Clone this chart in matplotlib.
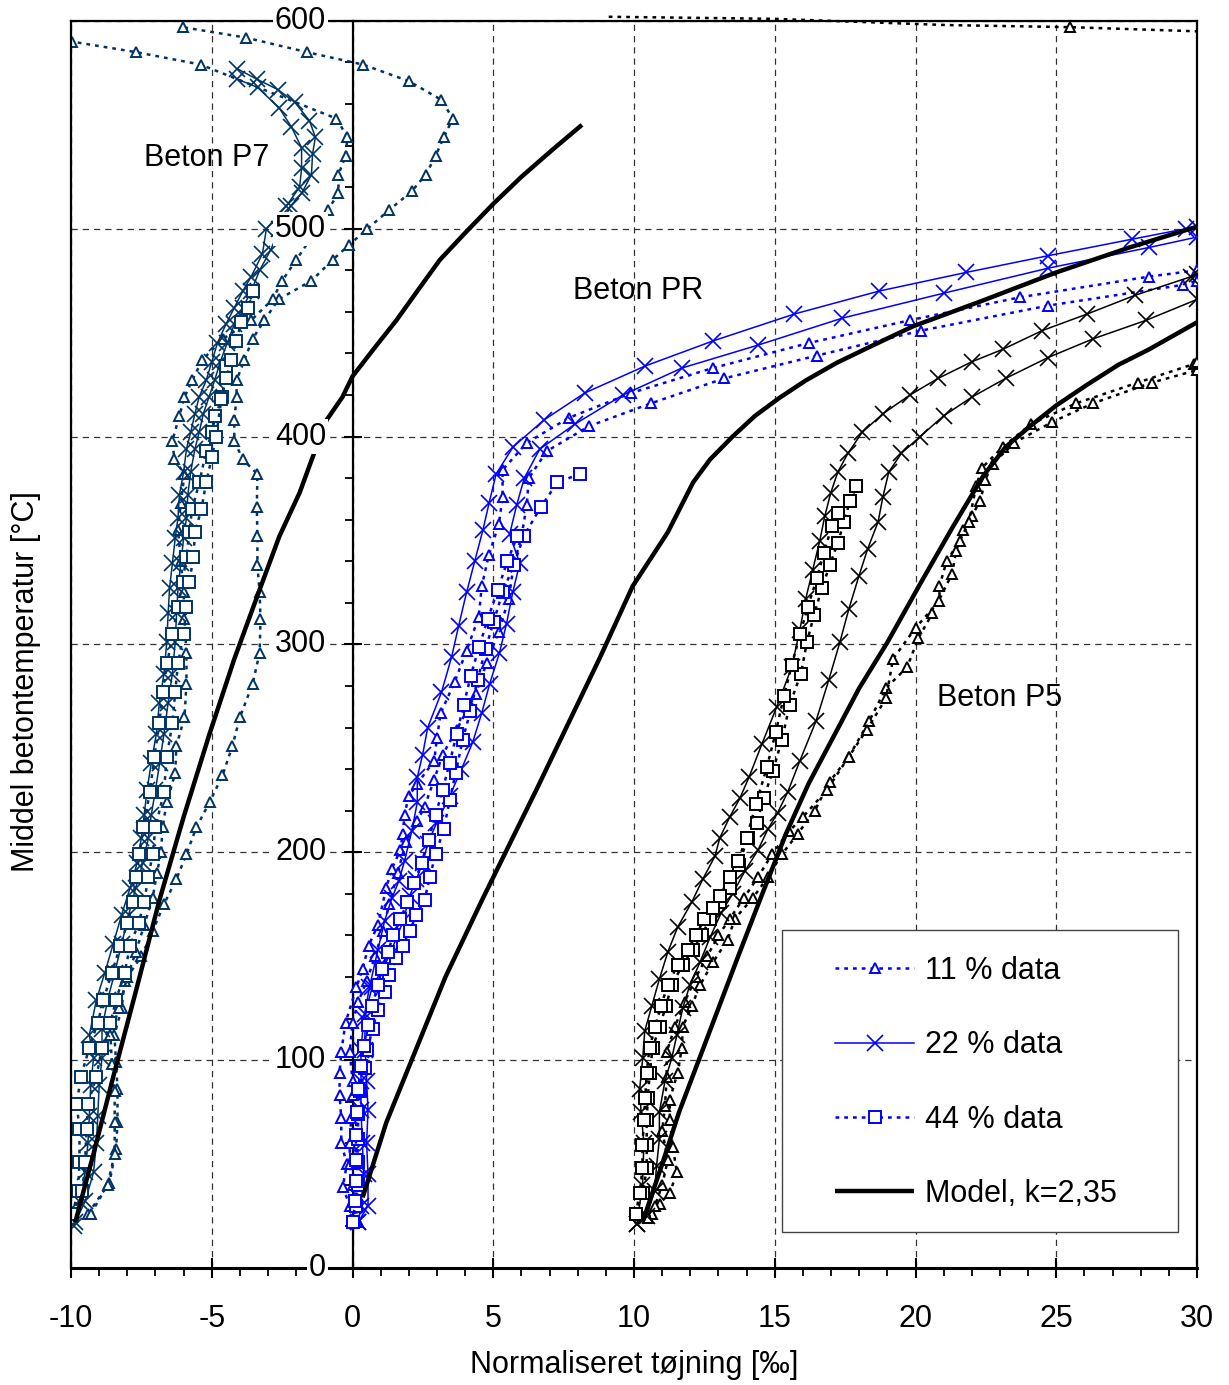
import matplotlib
matplotlib.use('Agg')
import matplotlib.pyplot as plt
from matplotlib.ticker import MultipleLocator
from matplotlib.patches import Rectangle

plt.rcParams['font.family'] = ['Liberation Sans', 'DejaVu Sans']
plt.rcParams['axes.unicode_minus'] = False

# ---------------- data ----------------
# Beton P7
p7_11a_x = [-9.4,-8.64,-8.4,-8.35,-8.35,-8.4,-8.46,-8.2,-8.1,-7.5,-7.1,-6.7,-6.26,-5.9,-5.55,-5.08,-4.62,-4.27,-4.0,-3.55,-3.3,-3.27,-3.3,-3.38,-3.38,-3.4,-3.38,-3.9,-4.2,-4.2,-4.12,-4.12,-3.84,-3.55,-3.13,-2.63,-1.46,-0.71,-0.14,0.53,1.3,2.1,2.6,2.95,3.24,3.56,3.16,2.0,0.37,-1.63,-3.8,-6.04]
p7_11a_y = [26,41,57,70,86,99,112,125,138,150,162,175,187,199,212,224,237,251,265,281,296,312,325,338,352,366,382,389,398,408,419,427,437,447,456,466,475,485,492,500,509,518,526,535,544,553,562,571,579,585,592,597]
p7_11b_x = [-9.3,-8.7,-8.45,-8.45,-8.45,-8.55,-8.6,-8.3,-8.0,-7.7,-7.4,-7.1,-6.95,-6.8,-6.75,-6.6,-6.3,-6.26,-5.97,-5.9,-5.9,-5.97,-6.0,-6.1,-6.2,-6.1,-5.97,-6.33,-6.4,-6.15,-5.97,-5.7,-5.33,-4.6,-3.6,-2.84,-2.5,-2.0,-1.4,-0.88,-0.5,-0.5,-0.25,-0.18,-0.57,-5.4,-7.7,-9.95]
p7_11b_y = [26,40,55,70,85,98,112,125,140,152,165,178,190,200,212,224,238,251,265,281,296,312,325,340,355,368,382,389,398,410,419,427,437,447,456,466,475,485,497,509,517,526,535,544,553,579,585,590]
p7_22a_x = [-9.9,-9.7,-9.5,-9.4,-9.35,-9.3,-9.2,-9.35,-9.1,-8.8,-8.5,-8.2,-7.9,-7.65,-7.5,-7.4,-7.3,-7.15,-6.97,-6.86,-6.7,-6.6,-6.55,-6.5,-6.4,-6.3,-6.2,-6.15,-6.0,-5.9,-5.75,-5.6,-5.45,-5.2,-5.0,-4.8,-4.5,-4.2,-3.9,-3.6,-3.2,-3.06,-2.35,-1.88,-1.81,-1.81,-2.17,-2.6,-3.37,-4.1]
p7_22a_y = [20,32,46,60,73,88,101,112,129,142,156,170,183,195,207,218,230,243,257,272,286,301,315,327,339,351,361,372,383,394,402,411,419,427,436,445,454,462,470,477,488,500,511,520,529,539,549,558,568,572]
p7_22b_x = [-9.85,-9.5,-9.2,-9.1,-9.05,-9.0,-8.9,-8.9,-8.7,-8.45,-8.2,-7.95,-7.7,-7.45,-7.25,-7.15,-7.0,-6.85,-6.7,-6.55,-6.4,-6.3,-6.25,-6.2,-6.1,-6.0,-5.9,-5.85,-5.75,-5.6,-5.45,-5.3,-5.1,-4.9,-4.7,-4.45,-4.2,-3.9,-3.6,-3.3,-2.9,-2.6,-2.2,-1.81,-1.46,-1.42,-1.32,-1.53,-2.06,-2.66,-3.4,-4.1]
p7_22b_y = [22,32,46,60,73,88,101,115,129,142,156,170,183,195,207,218,230,243,257,272,286,301,315,327,339,351,361,372,383,394,402,411,419,427,436,445,454,462,470,480,490,500,511,517,526,536,544,552,561,567,572,577]
p7_44a_x = [-9.95,-9.75,-9.7,-9.7,-9.8,-9.65,-9.35,-9.05,-8.85,-8.55,-8.25,-8.0,-7.8,-7.7,-7.57,-7.43,-7.2,-7.04,-6.86,-6.75,-6.58,-6.4,-6.2,-6.04,-5.9,-5.8,-5.7,-5.44,-5.2,-5.0,-4.87,-4.62,-4.48]
p7_44a_y = [26,37,51,67,79,92,106,118,129,142,155,166,176,188,199,212,229,246,262,277,291,305,318,330,342,354,365,378,393,402,410,419,434]
p7_44b_x = [-9.95,-9.6,-9.5,-9.45,-9.4,-9.1,-8.9,-8.6,-8.4,-8.1,-7.9,-7.6,-7.4,-7.26,-7.1,-7.0,-6.7,-6.6,-6.4,-6.3,-6.2,-6.0,-5.9,-5.8,-5.65,-5.6,-5.37,-5.2,-5.0,-4.85,-4.66,-4.5,-4.3,-4.13,-3.95,-3.73,-3.52]
p7_44b_y = [26,37,51,67,79,92,106,118,129,142,155,166,176,188,199,212,229,246,262,277,291,305,318,330,342,354,365,378,390,400,418,428,437,446,455,462,470]

# Beton PR
pr_11a_x = [0.2,-0.1,-0.35,-0.2,-0.4,-0.4,-0.46,-0.46,-0.4,-0.25,0.14,0.36,0.57,0.9,1.2,1.39,1.7,1.78,1.85,1.99,2.3,2.9,3.0,3.13,3.63,4.05,4.48,4.59,4.84,5.2,5.33,5.33,6.19,7.68,9.9,12.8,16.2,19.8,23.7,28.3,30.0]
pr_11a_y = [22,30,39,50,60,72,83,94,104,118,135,144,155,165,183,192,201,209,218,227,233,244,255,267,282,297,313,328,343,358,371,384,397,409,421,433,445,456,467,477,480]
pr_11b_x = [0.2,0.1,0.0,-0.1,-0.1,-0.05,0.0,0.0,-0.1,0.0,0.2,0.5,0.8,1.07,1.3,1.6,1.9,2.3,2.56,2.9,3.2,3.7,4.37,4.76,5.19,5.55,5.72,6.0,6.19,6.26,6.9,8.4,10.6,13.2,16.5,20.2,24.7,29.5,30.0]
pr_11b_y = [22,30,40,50,60,72,83,90,104,118,128,138,150,162,175,190,205,215,222,235,247,259,276,291,306,322,338,352,367,380,393,405,416,428,439,451,463,473,475]
pr_22a_x = [0.2,0.3,0.4,0.35,0.3,0.3,0.3,0.4,0.6,0.9,1.14,1.4,1.64,1.85,2.1,2.3,2.3,2.49,2.67,3.16,3.52,3.77,4.05,4.34,4.63,4.85,5.1,5.7,6.8,8.25,10.4,12.8,15.7,18.7,21.8,24.7,27.7,29.6,30.0]
pr_22a_y = [22,30,45,60,76,90,105,120,135,153,167,178,186,196,210,224,236,247,260,277,294,309,325,340,355,368,382,395,408,421,434,446,459,470,479,487,495,500,501]
pr_22b_x = [0.2,0.55,0.55,0.5,0.55,0.5,0.45,0.43,0.7,1.3,1.8,2.03,2.27,2.49,2.67,2.98,3.45,3.87,4.27,4.59,4.87,5.22,5.47,5.69,5.94,5.58,5.83,6.1,6.65,7.9,9.6,11.7,14.4,17.4,21.0,24.7,28.3,30.0]
pr_22b_y = [22,30,45,60,76,90,105,122,135,150,167,179,187,195,204,214,227,240,253,267,281,296,310,325,339,353,367,380,394,406,420,433,444,457,469,481,491,496]
pr_44a_x = [0.0,0.14,0.18,0.18,0.18,0.21,0.28,0.43,0.53,0.71,0.89,1.14,1.31,1.56,1.78,2.03,2.27,2.56,2.74,2.95,3.24,3.45,3.66,3.91,4.19,4.44,4.73,5.01,5.33,5.72,6.08,6.68,7.28,8.07]
pr_44a_y = [22,30,40,51,62,74,85,96,105,115,124,133,141,149,155,162,170,177,188,199,211,225,238,254,268,283,298,311,325,338,352,366,378,382]
pr_44b_x = [0.0,0.1,0.12,0.12,0.12,0.15,0.2,0.3,0.4,0.55,0.7,0.9,1.05,1.25,1.45,1.7,1.95,2.2,2.45,2.7,2.95,3.2,3.45,3.7,3.95,4.2,4.5,4.8,5.15,5.5,5.85]
pr_44b_y = [22,32,42,52,64,75,86,97,107,117,126,136,144,152,160,168,176,185,195,206,218,230,243,257,271,285,299,312,326,340,352]

# Beton P5
p5_11a_x = [10.63,10.91,11.27,11.52,11.38,11.27,11.27,11.55,11.7,11.73,12.05,12.34,12.8,13.33,13.58,14.22,14.75,15.25,15.82,16.42,16.95,17.63,18.35,18.95,19.7,20.1,20.6,21.3,21.44,21.7,22.0,22.3,22.47,22.75,23.5,24.85,26.3,28.4,30.0]
p5_11a_y = [26,31,36,46,58,71,81,94,106,116,126,136,147,158,168,178,188,199,209,220,234,246,263,279,289,303,315,334,345,355,362,369,379,387,397,407,416,426,432]
p5_11b_x = [10.5,10.75,11.0,11.2,11.0,11.1,11.16,11.16,11.45,11.8,12.2,12.6,13.0,13.4,13.9,14.4,14.9,15.5,16.0,16.85,17.63,18.27,18.95,19.2,20.0,20.85,20.85,21.1,21.58,21.9,22.15,22.36,23.1,24.1,25.7,27.9,29.9,30.0]
p5_11b_y = [24,30,40,52,66,78,92,104,116,128,140,150,160,168,178,188,199,210,217,230,246,259,274,293,308,321,328,340,350,359,376,385,395,406,416,426,435,436]
p5_11top_x = [9.1,15.0,21.1,25.5,30.0]
p5_11top_y = [602,601,598,597,595]
p5_22a_x = [10.1,10.3,10.35,10.25,10.2,10.31,10.38,10.63,10.9,11.2,11.55,12.05,12.44,12.87,13.05,13.4,13.76,14.08,14.54,15.07,15.6,15.89,16.1,16.35,16.6,16.78,16.99,17.24,17.6,18.1,18.84,19.8,20.8,22.0,23.1,24.5,26.1,27.8,29.8,30.0]
p5_22a_y = [21,40,60,75,86,101,114,126,139,152,164,176,187,198,207,217,226,236,252,270,289,307,322,336,350,362,373,383,392,402,411,420,428,436,442,451,459,468,477,478]
p5_22b_x = [10.1,10.45,10.73,10.8,10.9,10.9,11.1,11.34,11.52,11.73,11.98,12.34,12.7,13.1,13.5,13.94,14.4,14.75,15.1,15.46,15.89,16.46,16.92,17.31,17.63,17.99,18.3,18.67,18.84,19.05,19.5,20.16,21.0,22.0,23.2,24.7,26.3,28.2,30.0]
p5_22b_y = [21,25,37,49,62,75,90,101,112,125,136,147,159,171,180,191,201,211,219,229,244,263,283,301,317,333,346,359,371,383,392,400,410,419,428,438,447,456,466]
p5_44a_x = [10.06,10.31,10.45,10.45,10.45,10.49,10.56,10.66,10.91,11.13,11.34,11.73,12.1,12.4,12.7,13.05,13.4,13.72,14.04,14.36,14.6,14.93,15.25,15.53,15.93,16.14,16.39,16.67,16.95,17.24,17.46,17.67,17.9]
p5_44a_y = [26,36,48,59,71,82,94,106,116,126,136,146,153,160,168,176,183,194,207,214,226,239,254,271,286,301,314,327,338,349,359,369,376]
p5_44b_x = [10.06,10.2,10.3,10.3,10.35,10.4,10.45,10.55,10.75,10.95,11.2,11.55,11.9,12.2,12.5,12.8,13.05,13.4,13.69,14.0,14.33,14.72,15.04,15.32,15.6,15.9,16.17,16.5,16.74,17.03,17.24]
p5_44b_y = [26,36,48,59,71,82,94,106,116,126,136,146,153,160,168,173,179,188,196,207,223,241,258,275,290,305,318,332,344,357,363]

# Model, k=2,35
model_p7_x = [-9.85,-9.2,-8.5,-7.7,-6.86,-6.0,-5.08,-4.2,-3.31,-2.6,-1.88,-1.42,-0.92,-0.36,0.0,0.8,1.56,2.3,3.1,4.0,5.0,6.0,7.1,8.15]
model_p7_y = [22,55,92,133,177,217,257,293,326,352,373,390,408,419,429,443,456,470,485,498,512,525,538,550]
model_pr_x = [0.36,1.2,2.1,3.3,4.6,5.4,6.6,7.7,8.8,9.95,11.2,12.1,12.7,13.5,14.3,15.15,16.1,17.2,18.5,19.9,22.3,25.0,27.6,30.0]
model_pr_y = [34,70,100,140,177,199,232,263,294,328,354,378,389,400,410,418.5,427,435.5,444,453,465,479,491,501]
model_p5_x = [10.3,11.0,11.6,12.3,13.0,13.7,14.47,15.4,16.2,17.1,18.0,19.0,20.2,21.3,22.4,23.2,24.07,25.0,26.1,27.2,28.3,30.0]
model_p5_y = [22,50,75,100,125,150,177,209,233,256,279,301,330,356,381,395,405,415,425,434.5,442,455]

y_ticks = [0, 100, 200, 300, 400, 500, 600]
legend_labels = ['11 % data', '22 % data', '44 % data', 'Model, k=2,35']
panel_labels = ['Beton P7', 'Beton PR', 'Beton P5']

# ---------------- plot ----------------
NAVY = '#003366'
BLUE = '#0000FF'
BLACK = '#000000'
DOT = (0, (1.5, 2.0))

fig = plt.figure(figsize=(12.29, 13.85), dpi=100)
ax = fig.add_axes([0.0578, 0.0845, 0.9162, 0.9004])
ax.set_xlim(-10, 30)
ax.set_ylim(0, 600)


def s11(x, y, c, **kw):
    return ax.plot(x, y, color=c, lw=1.8, linestyle=DOT, marker='^', ms=6.5,
                   mew=1.4, mfc='white', mec=c, zorder=3, **kw)[0]


def s22(x, y, c, **kw):
    return ax.plot(x, y, color=c, lw=1.1, linestyle='-', marker='x', ms=11.5,
                   mew=1.2, mec=c, zorder=3, **kw)[0]


def s44(x, y, c, **kw):
    return ax.plot(x, y, color=c, lw=1.8, linestyle=DOT, marker='s', ms=9,
                   mew=1.4, mfc='white', mec=c, zorder=3, **kw)[0]


def model(x, y, **kw):
    return ax.plot(x, y, color='black', lw=3.2, solid_capstyle='butt',
                   solid_joinstyle='round', zorder=4, **kw)[0]


# P7
s11(p7_11a_x, p7_11a_y, NAVY)
s11(p7_11b_x, p7_11b_y, NAVY)
s22(p7_22a_x, p7_22a_y, NAVY)
s22(p7_22b_x, p7_22b_y, NAVY)
s44(p7_44a_x, p7_44a_y, NAVY)
s44(p7_44b_x, p7_44b_y, NAVY)
# PR
h11 = s11(pr_11a_x, pr_11a_y, BLUE)
s11(pr_11b_x, pr_11b_y, BLUE)
h22 = s22(pr_22a_x, pr_22a_y, BLUE)
s22(pr_22b_x, pr_22b_y, BLUE)
h44 = s44(pr_44a_x, pr_44a_y, BLUE)
s44(pr_44b_x, pr_44b_y, BLUE)
# P5
s11(p5_11a_x, p5_11a_y, BLACK)
s11(p5_11b_x, p5_11b_y, BLACK)
ax.plot(p5_11top_x, p5_11top_y, color=BLACK, lw=1.8, linestyle=DOT, marker='^',
        ms=6.5, mew=1.4, mfc='white', mec=BLACK, markevery=[3], clip_on=False, zorder=3)
s22(p5_22a_x, p5_22a_y, BLACK)
s22(p5_22b_x, p5_22b_y, BLACK)
s44(p5_44a_x, p5_44a_y, BLACK)
s44(p5_44b_x, p5_44b_y, BLACK)
# models
hm = model(model_p7_x, model_p7_y)
model(model_pr_x, model_pr_y)
model(model_p5_x, model_p5_y)

# axes styling
ax.spines['left'].set_position(('data', 0))
for s in ['left', 'right', 'top']:
    ax.spines[s].set_linewidth(1.6)
ax.spines['bottom'].set_linewidth(2.2)
ax.axvline(-10, color='black', lw=1.6, clip_on=False, zorder=5)

ax.xaxis.set_major_locator(MultipleLocator(5))
ax.xaxis.set_minor_locator(MultipleLocator(1))
ax.yaxis.set_major_locator(MultipleLocator(100))
ax.yaxis.set_minor_locator(MultipleLocator(20))
ax.tick_params(axis='x', which='major', direction='inout', length=14, width=1.5,
               labelsize=22, pad=19)
ax.tick_params(axis='x', which='minor', direction='out', length=6, width=1.3)
ax.tick_params(axis='y', which='major', direction='inout', length=13, width=1.5,
               labelleft=False)
ax.tick_params(axis='y', which='minor', direction='out', length=6, width=1.3)

ax.set_axisbelow(True)
ax.grid(True, which='major', linestyle=(0, (5, 4)), lw=0.9, color='#333333')

for yv in y_ticks:
    ax.annotate(str(yv), xy=(0, yv), xytext=(-19, 0), textcoords='offset points',
                ha='right', va='center', fontsize=22, zorder=10, annotation_clip=False,
                bbox=dict(facecolor='white', edgecolor='none', pad=1.5))

ax.set_xlabel('Normaliseret tøjning [‰]', fontsize=22)
ax.xaxis.set_label_coords(0.5, -0.066)
ax.set_ylabel('Middel betontemperatur [°C]', fontsize=22)
ax.yaxis.set_label_coords(-0.027, 0.47)

ax.text(-5.19, 534, panel_labels[0], fontsize=22, ha='center', va='center')
ax.text(10.13, 470, panel_labels[1], fontsize=22, ha='center', va='center')
ax.text(23.0, 274, panel_labels[2], fontsize=22, ha='center', va='center')

# legend frame + entries
ax.add_patch(Rectangle((0.6314, 0.0289), 0.3517, 0.2422, transform=ax.transAxes,
                       facecolor='white', edgecolor='#444444', lw=1.0, zorder=19))
leg = ax.legend([h11, h22, h44, hm], legend_labels, loc='upper left',
                bbox_to_anchor=(0.6580, 0.2685), frameon=False,
                fontsize=22, numpoints=1, handlelength=2.6, handletextpad=0.35,
                labelspacing=1.45, borderpad=0.75, borderaxespad=0)
leg.set_zorder(20)

fig.savefig('out.png', dpi=100)
